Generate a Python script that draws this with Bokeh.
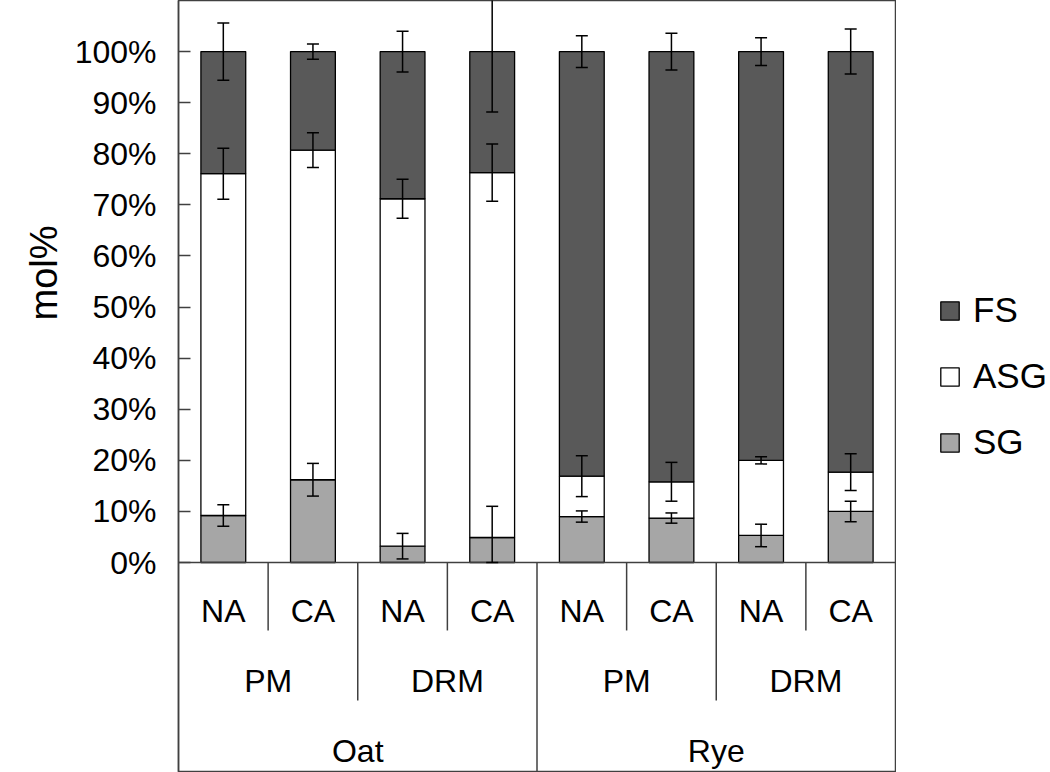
from bokeh.plotting import figure
from bokeh.layouts import row
from bokeh.models import (ColumnDataSource, FactorRange, Range1d, FixedTicker,
                          PrintfTickFormatter, Whisker, TeeHead, Span, Legend,
                          Title, LinearAxis)
from bokeh.core.properties import value
from bokeh.embed import file_html
from bokeh.resources import INLINE

# ---- data ----
species = ["Oat", "Oat", "Oat", "Oat", "Rye", "Rye", "Rye", "Rye"]
fraction = ["PM", "PM", "DRM", "DRM", "PM", "PM", "DRM", "DRM"]
treatment = ["NA", "CA", "NA", "CA", "NA", "CA", "NA", "CA"]

sg = [9.2, 16.2, 3.2, 4.9, 9.0, 8.7, 5.3, 10.0]
asg = [66.9, 64.5, 68.0, 71.4, 7.9, 7.1, 14.7, 7.7]
fs = [23.9, 19.3, 28.8, 23.7, 83.1, 84.2, 80.0, 82.3]

sg_err = [2.1, 3.2, 2.5, 6.1, 1.1, 1.0, 2.2, 2.0]
asg_err = [5.0, 3.4, 3.8, 5.6, 4.0, 3.8, 0.7, 3.6]
fs_err = [5.6, 1.5, 4.0, 11.8, 3.1, 3.6, 2.7, 4.4]

series_names = ["FS", "ASG", "SG"]
ytick_values = [0, 10, 20, 30, 40, 50, 60, 70, 80, 90, 100]

FONT = "Liberation Sans"
C_FS = "#595959"
C_ASG = "#ffffff"
C_SG = "#a6a6a6"
LINE = "#404040"

factors = list(zip(species, fraction, treatment))
cum1 = sg
cum2 = [a + b for a, b in zip(sg, asg)]
cum3 = [a + b for a, b in zip(cum2, fs)]

source = ColumnDataSource(dict(
    x=factors, SG=sg, ASG=asg, FS=fs,
    sg_up=[c + e for c, e in zip(cum1, sg_err)],
    sg_lo=[max(0.0, c - e) for c, e in zip(cum1, sg_err)],
    asg_up=[c + e for c, e in zip(cum2, asg_err)],
    asg_lo=[c - e for c, e in zip(cum2, asg_err)],
    fs_up=[c + e for c, e in zip(cum3, fs_err)],
    fs_lo=[c - e for c, e in zip(cum3, fs_err)],
))

x_range = FactorRange(*factors, factor_padding=0, subgroup_padding=0,
                      group_padding=0, range_padding=0)
y_range = Range1d(-41.1, 110.0)

p = figure(width=896, height=772, x_range=x_range, y_range=y_range,
           output_backend="svg", toolbar_location=None,
           min_border_left=178, min_border_right=1,
           min_border_top=0, min_border_bottom=0)
p.xaxis.visible = False
p.xgrid.visible = False
p.ygrid.visible = False
p.outline_line_color = LINE
p.outline_line_width = 1.5

yax = p.yaxis[0]
yax.ticker = FixedTicker(ticks=ytick_values)
yax.formatter = PrintfTickFormatter(format="%d%%")
yax.major_tick_in = 12
yax.major_tick_out = 0
yax.minor_tick_line_color = None
yax.major_tick_line_color = LINE
yax.major_tick_line_width = 1.5
yax.axis_line_color = LINE
yax.axis_line_width = 1.5
yax.major_label_text_font = FONT
yax.major_label_text_font_size = "32px"
yax.major_label_text_color = "black"
yax.major_label_standoff = 22

# empty spacer axis that pushes the y title further out
spacer = LinearAxis(ticker=FixedTicker(ticks=[]), axis_line_color=None,
                    major_tick_line_color=None, minor_tick_line_color=None,
                    major_tick_in=0, major_tick_out=14)
p.add_layout(spacer, "left")

title = Title(text="mol%", align="left", offset=452, vertical_align="top",
              text_font=FONT, text_font_size="38px", text_font_style="normal",
              text_color="black")
p.add_layout(title, "left")

p.vbar_stack(["SG", "ASG", "FS"], x="x", width=0.5, source=source,
             fill_color=[C_SG, C_ASG, C_FS], line_color="black", line_width=1.3)

p.add_layout(Span(location=0, dimension="width", line_color=LINE, line_width=1.5))

for up, lo in (("sg_up", "sg_lo"), ("asg_up", "asg_lo"), ("fs_up", "fs_lo")):
    w = Whisker(source=source, base="x", upper=up, lower=lo, dimension="height",
                line_color="black", line_width=1.5, level="annotation",
                upper_head=TeeHead(size=12, line_color="black", line_width=1.5),
                lower_head=TeeHead(size=12, line_color="black", line_width=1.5))
    p.add_layout(w)

# category labels below the axis
p.text(x=factors, y=[-9.4] * len(factors), text=treatment,
       text_font=value(FONT), text_font_size="32px", text_color="black",
       text_align="center", text_baseline="middle")
grp2 = [("Oat", "PM"), ("Oat", "DRM"), ("Rye", "PM"), ("Rye", "DRM")]
p.text(x=grp2, y=[-23.1] * 4, text=[g[1] for g in grp2],
       text_font=value(FONT), text_font_size="32px", text_color="black",
       text_align="center", text_baseline="middle")
grp1 = ["Oat", "Rye"]
p.text(x=grp1, y=[-36.8] * 2, text=grp1,
       text_font=value(FONT), text_font_size="32px", text_color="black",
       text_align="center", text_baseline="middle")

# separators
p.segment(x0=[1, 3, 5, 7], x1=[1, 3, 5, 7], y0=[0] * 4, y1=[-13.3] * 4,
          line_color=LINE, line_width=1.5)
p.segment(x0=[2, 6], x1=[2, 6], y0=[0] * 2, y1=[-27.0] * 2,
          line_color=LINE, line_width=1.5)
p.segment(x0=[4], x1=[4], y0=[0], y1=[-45], line_color=LINE, line_width=1.5)

# legend in its own narrow figure to the right (hidden copies of the stack)
lg = figure(width=154, height=772, x_range=x_range, y_range=y_range,
            output_backend="svg", toolbar_location=None,
            min_border_left=0, min_border_right=0,
            min_border_top=0, min_border_bottom=0)
lg.axis.visible = False
lg.grid.visible = False
lg.outline_line_color = None
h_sg, h_asg, h_fs = lg.vbar_stack(["SG", "ASG", "FS"], x="x", width=0.5,
                                  source=source,
                                  fill_color=[C_SG, C_ASG, C_FS],
                                  line_color="black", line_width=1.3,
                                  visible=False)

legend = Legend(items=[("FS", [h_fs]), ("ASG", [h_asg]), ("SG", [h_sg])],
                location=(42, 310), glyph_width=23, glyph_height=23,
                label_height=40, spacing=26, label_standoff=12,
                label_text_font=FONT, label_text_font_size="35px",
                label_text_color="black", border_line_color=None,
                background_fill_alpha=0, padding=0, margin=0,
                inactive_fill_alpha=0)
lg.add_layout(legend, "center")

layout = row(p, lg, spacing=0)
open("out.html", "w").write(file_html(layout, INLINE))
